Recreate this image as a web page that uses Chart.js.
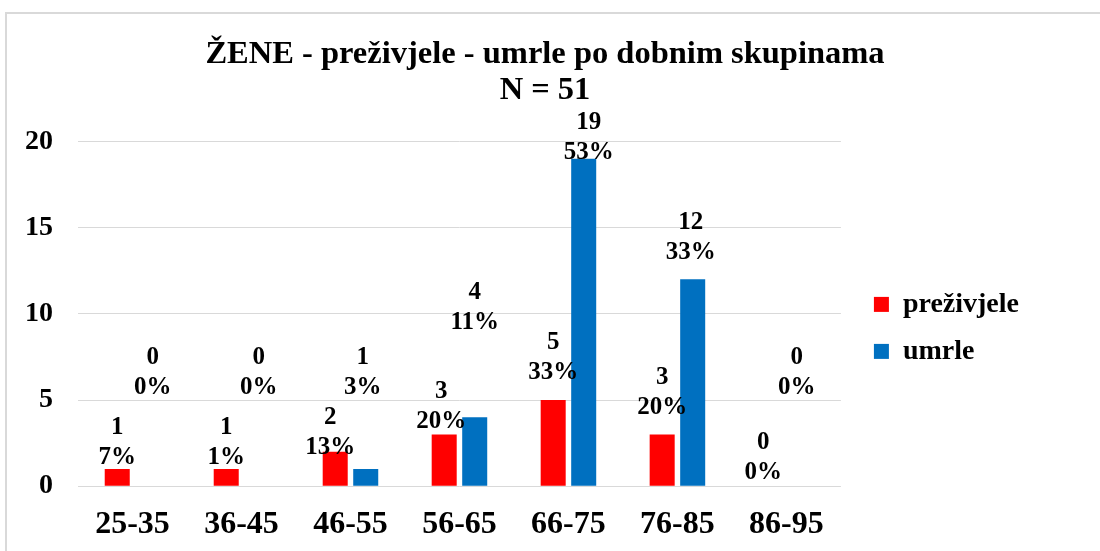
<!DOCTYPE html>
<html>
<head>
<meta charset="utf-8">
<script src="https://cdn.jsdelivr.net/npm/chart.js@4.4.1/dist/chart.umd.min.js"></script>
<style>
  body { margin: 0; background: #fff; }
  #okvir { width: 1100px; height: 551px; }
</style>
</head>
<body>
<div id="okvir"><canvas id="grafikon" width="1100" height="551"></canvas></div>
<script>
// podaci
const kategorije = ['25-35', '36-45', '46-55', '56-65', '66-75', '76-85', '86-95'];
const prezivjele = [1, 1, 2, 3, 5, 3, 0];
const umrle = [0, 0, 1, 4, 19, 12, 0];
const postoPrezivjele = ['7%', '1%', '13%', '20%', '33%', '20%', '0%'];
const postoUmrle = ['0%', '0%', '3%', '11%', '53%', '33%', '0%'];
const yOznake = [0, 5, 10, 15, 20];

const FONT = '"Liberation Serif", "Times New Roman", serif';

// okvir oko grafikona, naslov centriran preko cijele sirine, legenda malo desno
const okvirPlugin = {
  id: 'okvir',
  afterLayout(chart) {
    if (chart.titleBlock) {
      chart.titleBlock.left = 0;
      chart.titleBlock.right = 1090;
    }
    if (chart.legend) {
      chart.legend.left += 14;
      chart.legend.right += 14;
    }
    // oznake kategorija malo nize
    chart.scales.x.top += 6;
    chart.scales.x.bottom += 6;
  },
  beforeDraw(chart) {
    const ctx = chart.ctx;
    ctx.save();
    ctx.fillStyle = '#fff';
    ctx.fillRect(0, 0, chart.width, chart.height);
    ctx.strokeStyle = '#d9d9d9';
    ctx.lineWidth = 2;
    ctx.beginPath();
    ctx.moveTo(6, chart.height);
    ctx.lineTo(6, 13);
    ctx.lineTo(chart.width, 13);
    ctx.stroke();
    ctx.restore();
  }
};

// broj + postotak iznad stupaca (pomaci kao u originalu)
const oznakePlugin = {
  id: 'oznake',
  afterDatasetsDraw(chart, args, opts) {
    const ctx = chart.ctx;
    ctx.save();
    ctx.font = 'bold 25px ' + FONT;
    ctx.fillStyle = '#000';
    ctx.textAlign = 'center';
    ctx.textBaseline = 'middle';
    chart.data.datasets.forEach((ds, i) => {
      const meta = chart.getDatasetMeta(i);
      meta.data.forEach((bar, j) => {
        const p = opts.pomaci[i][j];
        const x = bar.x + p[0];
        const y = bar.y - p[1];
        ctx.fillText(String(ds.data[j]), x, y - 30);
        ctx.fillText(ds.postotci[j], x, y);
      });
    });
    ctx.restore();
  }
};

const ctx = document.getElementById('grafikon').getContext('2d');
new Chart(ctx, {
  type: 'bar',
  data: {
    labels: kategorije,
    datasets: [
      { label: 'preživjele', data: prezivjele, postotci: postoPrezivjele, backgroundColor: '#ff0000' },
      { label: 'umrle', data: umrle, postotci: postoUmrle, backgroundColor: '#0070c0' }
    ]
  },
  plugins: [okvirPlugin, oznakePlugin],
  options: {
    responsive: false,
    animation: false,
    categoryPercentage: 0.56,
    barPercentage: 0.82,
    layout: { padding: { top: 14, left: 0, right: 85, bottom: 0 } },
    scales: {
      x: {
        grid: { display: false, drawTicks: false },
        border: { display: false },
        ticks: { color: '#000', font: { family: FONT, size: 32, weight: 'bold', lineHeight: 0.9 }, padding: 18 }
      },
      y: {
        min: 0,
        max: 20,
        afterBuildTicks: (axis) => { axis.ticks = yOznake.map(v => ({ value: v })); },
        grid: { color: '#d9d9d9', drawTicks: false },
        border: { display: false },
        ticks: { color: '#000', font: { family: FONT, size: 28, weight: 'bold' }, padding: 25 }
      }
    },
    plugins: {
      title: {
        display: true,
        text: ['ŽENE - preživjele - umrle po dobnim skupinama', 'N = 51'],
        color: '#000',
        font: { family: FONT, size: 32.5, weight: 'bold', lineHeight: 1.13 },
        padding: { top: 22, bottom: 32 }
      },
      legend: {
        position: 'right',
        align: 'start',
        title: { display: true, text: ' ', padding: { top: 243, bottom: 0 } },
        labels: {
          color: '#000',
          boxWidth: 15,
          boxHeight: 15,
          padding: 19,
          font: { family: FONT, size: 28, weight: 'bold' }
        }
      },
      tooltip: { enabled: false },
      oznake: {
        pomaci: [
          [[0, 11], [0, 11], [-5, 4], [-3, 13], [0, 27], [0, 27], [-8, 14]],
          [[5, 99], [2, 99], [-3, 81], [0, 95], [5, 6], [-2, 27], [-5, 99]]
        ]
      }
    }
  }
});
</script>
</body>
</html>
